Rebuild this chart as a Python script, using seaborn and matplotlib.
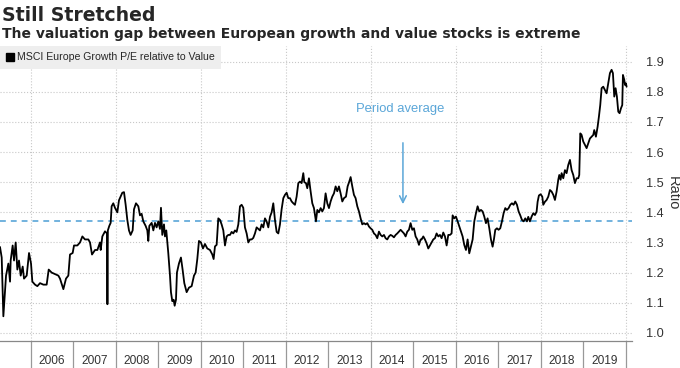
import pandas as pd
import matplotlib
matplotlib.use("Agg")
import matplotlib.pyplot as plt
from matplotlib.lines import Line2D
from matplotlib.ticker import FixedLocator, NullFormatter, FixedFormatter
import seaborn as sns

# -------------------------------
# Datos (ano decimal, ratio P/E growth / value)
# -------------------------------
years = [
    2005.278, 2005.318, 2005.357, 2005.420, 2005.475, 2005.514, 2005.529, 2005.576,
    2005.608, 2005.647, 2005.686, 2005.725, 2005.765, 2005.812, 2005.843, 2005.906,
    2005.961, 2006.008, 2006.039, 2006.102, 2006.157, 2006.220, 2006.298, 2006.376,
    2006.424, 2006.494, 2006.573, 2006.651, 2006.690, 2006.769, 2006.831, 2006.886,
    2006.925, 2006.988, 2007.020, 2007.098, 2007.161, 2007.216, 2007.278, 2007.357,
    2007.396, 2007.443, 2007.514, 2007.569, 2007.631, 2007.647, 2007.686, 2007.749,
    2007.796, 2007.806, 2007.816,
    2007.850, 2007.882, 2007.905, 2007.944, 2007.984, 2008.039, 2008.078, 2008.125,
    2008.156, 2008.196, 2008.235, 2008.274, 2008.313, 2008.352, 2008.400, 2008.431,
    2008.478, 2008.533, 2008.572, 2008.611, 2008.650, 2008.705, 2008.745, 2008.768,
    2008.792, 2008.847, 2008.886, 2008.925, 2008.964, 2009.003, 2009.042, 2009.066,
    2009.097, 2009.137, 2009.160, 2009.191, 2009.238, 2009.278, 2009.301, 2009.333,
    2009.364, 2009.388, 2009.419, 2009.442, 2009.489, 2009.536, 2009.575, 2009.615,
    2009.670, 2009.725, 2009.788, 2009.843, 2009.882, 2009.921, 2009.960, 2010.007,
    2010.054, 2010.101, 2010.156, 2010.219, 2010.274, 2010.305,
    2010.337, 2010.376, 2010.415, 2010.454, 2010.493, 2010.533, 2010.572, 2010.611,
    2010.650, 2010.690, 2010.729, 2010.768, 2010.807, 2010.846, 2010.886, 2010.925,
    2010.964, 2011.003, 2011.042, 2011.082, 2011.121, 2011.160, 2011.199, 2011.238,
    2011.278, 2011.317, 2011.356, 2011.395, 2011.435, 2011.474, 2011.513, 2011.552,
    2011.592, 2011.631, 2011.670, 2011.709, 2011.748, 2011.788, 2011.827, 2011.866,
    2011.905, 2011.945, 2011.984, 2012.023, 2012.062, 2012.101, 2012.141, 2012.180,
    2012.219, 2012.258, 2012.298, 2012.337, 2012.376, 2012.415, 2012.439, 2012.478,
    2012.509, 2012.548, 2012.587, 2012.627, 2012.666, 2012.713, 2012.745,
    2012.784, 2012.823, 2012.862, 2012.901, 2012.940, 2012.980, 2013.019, 2013.058,
    2013.097, 2013.137, 2013.176, 2013.215, 2013.254, 2013.293, 2013.333, 2013.372,
    2013.419, 2013.458, 2013.497, 2013.529, 2013.568, 2013.607, 2013.646, 2013.686,
    2013.725, 2013.764, 2013.803, 2013.842, 2013.882, 2013.921, 2013.960, 2013.999,
    2014.038, 2014.078, 2014.117, 2014.156, 2014.195, 2014.235, 2014.274, 2014.313,
    2014.352, 2014.391, 2014.431, 2014.470, 2014.509, 2014.548, 2014.588, 2014.627,
    2014.666, 2014.705, 2014.744, 2014.784, 2014.823, 2014.862, 2014.901, 2014.940,
    2014.980, 2015.019, 2015.058, 2015.097, 2015.137, 2015.176,
    2015.199, 2015.239, 2015.278, 2015.317, 2015.356, 2015.396, 2015.435, 2015.474,
    2015.513, 2015.552, 2015.592, 2015.631, 2015.670, 2015.709, 2015.749, 2015.788,
    2015.827, 2015.866, 2015.905, 2015.929, 2015.968, 2016.007, 2016.047, 2016.086,
    2016.125, 2016.164, 2016.203, 2016.243, 2016.282, 2016.321, 2016.360, 2016.400,
    2016.439, 2016.478, 2016.517, 2016.556, 2016.596, 2016.635, 2016.674, 2016.713,
    2016.752, 2016.792, 2016.831, 2016.870, 2016.901, 2016.933, 2016.972, 2017.011,
    2017.050, 2017.090, 2017.129, 2017.168, 2017.207, 2017.247, 2017.286, 2017.325,
    2017.364, 2017.403, 2017.443, 2017.482, 2017.521, 2017.560, 2017.599, 2017.639,
    2017.678,
    2017.709, 2017.748, 2017.788, 2017.827, 2017.866, 2017.905, 2017.929, 2017.960,
    2018.000, 2018.039, 2018.062, 2018.101, 2018.141, 2018.180, 2018.219, 2018.258,
    2018.298, 2018.337, 2018.376, 2018.415, 2018.439, 2018.470, 2018.494, 2018.533,
    2018.572, 2018.611, 2018.650, 2018.690, 2018.729, 2018.768, 2018.807, 2018.847,
    2018.886, 2018.909, 2018.933, 2018.964, 2019.003, 2019.043, 2019.082, 2019.121,
    2019.160, 2019.199, 2019.239, 2019.262, 2019.301, 2019.341, 2019.372, 2019.403,
    2019.435, 2019.474, 2019.513, 2019.552, 2019.592, 2019.631, 2019.670, 2019.701,
    2019.733, 2019.764, 2019.795, 2019.827, 2019.858, 2019.890, 2019.921, 2019.937,
    2019.968, 2019.984, 2020.007, 2020.023,
]
ratio = [
    1.285, 1.250, 1.055, 1.190, 1.230, 1.170, 1.240, 1.290,
    1.240, 1.300, 1.210, 1.240, 1.190, 1.220, 1.180, 1.190,
    1.265, 1.230, 1.170, 1.160, 1.155, 1.165, 1.160, 1.160,
    1.210, 1.200, 1.195, 1.190, 1.180, 1.145, 1.180, 1.190,
    1.260, 1.265, 1.290, 1.290, 1.300, 1.320, 1.310, 1.310,
    1.300, 1.260, 1.275, 1.275, 1.300, 1.275, 1.320, 1.337,
    1.330, 1.095, 1.340,
    1.355, 1.365, 1.420, 1.430, 1.415, 1.400, 1.440, 1.455,
    1.465, 1.467, 1.425, 1.375, 1.340, 1.325, 1.340, 1.410,
    1.430, 1.420, 1.390, 1.395, 1.370, 1.355, 1.340, 1.305,
    1.355, 1.365, 1.340, 1.365, 1.350, 1.370, 1.345, 1.415,
    1.325, 1.360, 1.320, 1.340, 1.265, 1.190, 1.135, 1.105,
    1.110, 1.090, 1.110, 1.200, 1.230, 1.250, 1.210, 1.165,
    1.135, 1.150, 1.155, 1.190, 1.200, 1.245, 1.305, 1.300,
    1.280, 1.295, 1.280, 1.275, 1.260, 1.245,
    1.287, 1.292, 1.380, 1.375, 1.360, 1.340, 1.290, 1.320,
    1.325, 1.325, 1.335, 1.330, 1.340, 1.335, 1.360, 1.420,
    1.425, 1.415, 1.350, 1.330, 1.300, 1.310, 1.310, 1.315,
    1.330, 1.350, 1.345, 1.340, 1.360, 1.350, 1.380, 1.370,
    1.350, 1.385, 1.400, 1.430, 1.375, 1.335, 1.330, 1.360,
    1.410, 1.447, 1.458, 1.465, 1.447, 1.447, 1.436, 1.430,
    1.425, 1.452, 1.497, 1.502, 1.497, 1.530, 1.500, 1.497,
    1.480, 1.513, 1.470, 1.430, 1.414, 1.370, 1.408,
    1.400, 1.414, 1.403, 1.414, 1.463, 1.430, 1.414, 1.436,
    1.452, 1.463, 1.486, 1.470, 1.486, 1.463, 1.436, 1.447,
    1.452, 1.486, 1.502, 1.517, 1.486, 1.458, 1.447, 1.420,
    1.403, 1.380, 1.360, 1.364, 1.360, 1.364, 1.353, 1.347,
    1.342, 1.330, 1.325, 1.314, 1.336, 1.325, 1.320, 1.325,
    1.314, 1.310, 1.320, 1.325, 1.322, 1.317, 1.325, 1.330,
    1.336, 1.342, 1.336, 1.330, 1.320, 1.336, 1.342, 1.364,
    1.342, 1.347, 1.320, 1.310, 1.292, 1.310,
    1.310, 1.320, 1.310, 1.297, 1.280, 1.290, 1.300, 1.310,
    1.314, 1.330, 1.320, 1.325, 1.314, 1.333, 1.320, 1.290,
    1.325, 1.325, 1.330, 1.390, 1.380, 1.386, 1.370, 1.353,
    1.336, 1.320, 1.292, 1.275, 1.310, 1.264, 1.286, 1.310,
    1.370, 1.397, 1.420, 1.403, 1.408, 1.403, 1.386, 1.364,
    1.380, 1.347, 1.310, 1.286, 1.310, 1.342, 1.347, 1.342,
    1.347, 1.370, 1.397, 1.414, 1.408, 1.414, 1.425, 1.430,
    1.425, 1.436, 1.425, 1.403, 1.390, 1.375, 1.370, 1.380,
    1.370,
    1.385, 1.370, 1.386, 1.397, 1.391, 1.402, 1.435, 1.456,
    1.460, 1.452, 1.425, 1.435, 1.441, 1.452, 1.474, 1.469,
    1.458, 1.441, 1.469, 1.508, 1.524, 1.508, 1.530, 1.513,
    1.540, 1.530, 1.557, 1.574, 1.540, 1.524, 1.497, 1.513,
    1.513, 1.524, 1.662, 1.657, 1.635, 1.624, 1.613, 1.629,
    1.645, 1.651, 1.657, 1.673, 1.651, 1.684, 1.718, 1.756,
    1.812, 1.817, 1.806, 1.795, 1.828, 1.862, 1.873, 1.862,
    1.784, 1.812, 1.784, 1.734, 1.729, 1.745, 1.756, 1.856,
    1.840, 1.823, 1.828, 1.817,
]
period_avg = 1.37
year_labels = [str(y) for y in range(2006, 2020)]
y_ticks = [1.0, 1.1, 1.2, 1.3, 1.4, 1.5, 1.6, 1.7, 1.8, 1.9]

df = pd.DataFrame({"year": years, "ratio": ratio})

# -------------------------------
# Estilo
# -------------------------------
sns.set_style("white")
plt.rcParams["font.family"] = ["Liberation Sans", "DejaVu Sans"]

BLUE = "#5aa6d8"
GRID = "#c8c8c8"

fig = plt.figure(figsize=(6.8, 3.68), dpi=100)
ax = fig.add_axes([0.0, 0.0734, 0.9294, 0.8016])

sns.lineplot(data=df, x="year", y="ratio", ax=ax, color="black", linewidth=1.3)
ax.axhline(period_avg, color=BLUE, linestyle=(0, (3.5, 3)), linewidth=1.2, zorder=1)

ax.set_xlim(2005.278, 2020.15)
ax.set_ylim(0.973, 1.952)

# eje y a la derecha
ax.yaxis.tick_right()
ax.yaxis.set_label_position("right")
ax.set_yticks(y_ticks)
ax.set_yticklabels([f"{t:.1f}" for t in y_ticks])
ax.tick_params(axis="y", left=False, right=False, length=0, pad=10,
               labelsize=9.2, colors="#333333")
ax.set_ylabel("Ratio", rotation=270, fontsize=10.5, color="#333333",
              va="center", ha="center")
ax.yaxis.set_label_coords(1.064, 0.5)

# eje x: marcas largas en el cambio de ano, etiquetas centradas en el ano
ax.xaxis.set_major_locator(FixedLocator(list(range(2006, 2021))))
ax.xaxis.set_major_formatter(NullFormatter())
ax.xaxis.set_minor_locator(FixedLocator([y + 0.5 for y in range(2006, 2020)]))
ax.xaxis.set_minor_formatter(FixedFormatter(year_labels))
ax.tick_params(axis="x", which="major", bottom=True, length=20, width=0.9, color="#999999")
ax.tick_params(axis="x", which="minor", bottom=True, length=0, pad=10,
               labelsize=8.6, colors="#333333")
ax.set_xlabel("")

# grilla punteada
ax.grid(False)
for t in y_ticks:
    ax.axhline(t, color=GRID, linestyle=":", linewidth=0.8, zorder=0)
for yr in range(2006, 2021, 2):
    ax.axvline(yr, color=GRID, linestyle=":", linewidth=0.8, zorder=0)

for side in ["top", "right", "left"]:
    ax.spines[side].set_visible(False)
ax.spines["bottom"].set_color("#888888")
ax.spines["bottom"].set_linewidth(0.9)

# anotacion del promedio
ax.text(2014.69, 1.743, "Period average", color=BLUE, fontsize=9.4, ha="center", va="center")
ax.annotate("", xy=(2014.76, 1.418), xytext=(2014.76, 1.64),
            arrowprops=dict(arrowstyle="->", color=BLUE, lw=1.1, mutation_scale=12))

# leyenda
handle = Line2D([], [], marker="s", color="black", linestyle="", markersize=5.5)
leg = ax.legend([handle], ["MSCI Europe Growth P/E relative to Value"], loc="upper left",
                bbox_to_anchor=(0.0, 1.0), frameon=True, fancybox=False, borderaxespad=0,
                handlelength=0.7, handletextpad=0.3, borderpad=0.6, fontsize=7.6)
leg.get_frame().set_facecolor("#eeeeee")
leg.get_frame().set_edgecolor("none")
leg.get_frame().set_alpha(1)

# titulos
fig.text(0.003, 0.9437, "Still Stretched", fontsize=13.6, fontweight="bold",
         family="DejaVu Sans", va="baseline", ha="left")
fig.text(0.003, 0.896, "The valuation gap between European growth and value stocks is extreme",
         fontsize=10, fontweight="bold", family="DejaVu Sans", va="baseline", ha="left")

fig.savefig("out.png", dpi=100)
